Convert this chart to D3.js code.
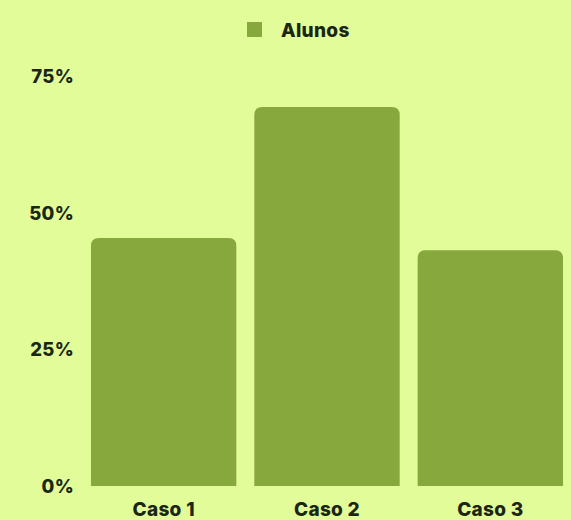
<!DOCTYPE html>
<html><head><meta charset="utf-8">
<script src="https://cdn.jsdelivr.net/npm/d3@7"></script>
<style>
html,body{margin:0;padding:0;background:#e2fc9a;}
svg{display:block;}
text{font-family:Inter,"Open Sans",sans-serif;font-weight:800;fill:#1b2612;}
</style></head>
<body>
<svg id="c" width="571" height="520"></svg>
<script>
const categories = ["Caso 1", "Caso 2", "Caso 3"];
const alunos = [45.4, 69.4, 43.2];
const tickValues = [0, 25, 50, 75];
const seriesName = "Alunos";

const W = 571, H = 520;
const svg = d3.select("#c");
svg.append("rect").attr("width", W).attr("height", H).attr("fill", "#e2fc9a");

const x = d3.scaleBand().domain(categories).range([82, 572]).paddingInner(0.11).paddingOuter(0.055);
const y = d3.scaleLinear().domain([0, 75]).range([486, 76.5]);

const r = 8;
function barPath(x0, y0, w, y1) {
  const rr = Math.min(r, (y1 - y0) / 2, w / 2);
  return `M${x0},${y1}V${y0 + rr}Q${x0},${y0} ${x0 + rr},${y0}H${x0 + w - rr}Q${x0 + w},${y0} ${x0 + w},${y0 + rr}V${y1}Z`;
}

svg.append("g").selectAll("path").data(alunos).join("path")
  .attr("d", (d, i) => barPath(x(categories[i]), y(d), x.bandwidth(), y(0)))
  .attr("fill", "#87a83c");

// Y axis
const yAxis = d3.axisLeft(y).tickValues(tickValues).tickFormat(d => d + "%").tickSize(0).tickPadding(0);
const gy = svg.append("g").attr("transform", "translate(74,0)").call(yAxis);
gy.select(".domain").remove();
gy.selectAll("text").style("font-size", "18.5px").style("font-family", "Inter, sans-serif").style("font-weight", "800").style("letter-spacing", "0.3px").attr("fill", "#1b2612").attr("dy", "0.35em");

// X axis
const xAxis = d3.axisBottom(x).tickSize(0).tickPadding(0);
const gx = svg.append("g").attr("transform", "translate(0,502)").call(xAxis);
gx.select(".domain").remove();
gx.selectAll("text").style("font-size", "19px").style("font-family", "Inter, sans-serif").style("font-weight", "800").style("letter-spacing", "0.3px").attr("fill", "#1b2612").attr("dy", "0.71em");

// Legend
const lg = svg.append("g");
lg.append("rect").attr("x", 247).attr("y", 22).attr("width", 15).attr("height", 15).attr("fill", "#87a83c");
lg.append("text").attr("x", 281).attr("y", 37).style("font-size", "19px").style("letter-spacing", "0.3px").text(seriesName);
</script>
</body></html>
